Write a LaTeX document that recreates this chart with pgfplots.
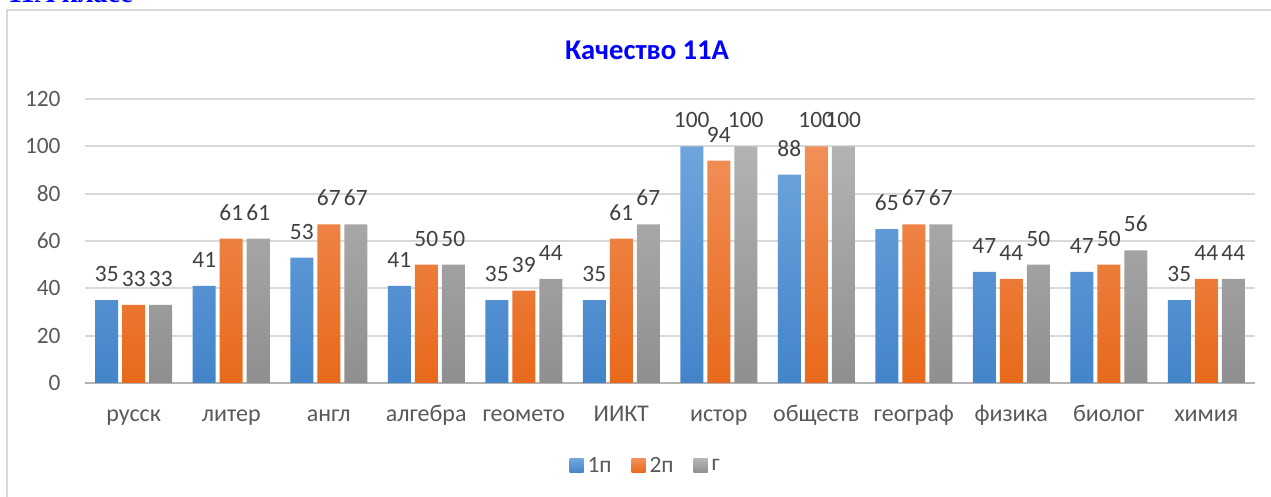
\documentclass[border=0pt]{standalone}
\usepackage{fontspec}
\setmainfont{Carlito}
\newfontfamily\headfont{Liberation Serif}
\usepackage{pgfplots}
\pgfplotsset{compat=1.18}
\definecolor{blueT}{HTML}{6FA5DD}
\definecolor{blueB}{HTML}{4384CA}
\definecolor{orT}{HTML}{F18F58}
\definecolor{orB}{HTML}{E8691B}
\definecolor{grT}{HTML}{B3B3B3}
\definecolor{grB}{HTML}{8F8F8F}
\definecolor{gridc}{HTML}{D9D9D9}
\definecolor{txt}{HTML}{595959}
\definecolor{lbl}{HTML}{404040}
\definecolor{headblue}{HTML}{0000FF}

\begin{document}
\begin{tikzpicture}
\clip (-42.5pt,-57pt) rectangle (593pt,191.5pt);
\draw[gridc, line width=1pt] (-39pt,186.5pt) rectangle (602pt,-68.5pt);
\node[anchor=base east, font=\headfont\bfseries\fontsize{14}{16}\selectfont, text=headblue, inner sep=0pt]
  at (24pt,190pt) {11А класс};
\begin{axis}[
  at={(0pt,0pt)}, anchor=south west,
  scale only axis,
  width=585pt, height=142pt,
  xmin=-0.5, xmax=11.5,
  ymin=0, ymax=120,
  ytick={0,20,...,120},
  xtick={0,...,11},
  xticklabels={русск,литер,англ,алгебра,геомето,ИИКТ,истор,обществ,географ,физика,биолог,химия},
  /pgf/number format/assume math mode=true,
  major tick length=0pt,
  axis line style={draw=none},
  ymajorgrids,
  grid style={gridc, line width=1pt},
  extra y ticks={0},
  extra y tick labels={},
  extra y tick style={grid style={draw=gray!60, line width=1pt}},
  tick label style={font=\fontsize{11.7}{13}\selectfont, text=txt},
  yticklabel style={anchor=east, inner sep=0pt, xshift=-12pt},
  xticklabel style={anchor=base, yshift=-19.5pt, font=\fontsize{12}{13}\selectfont},
  ybar=2pt,
  bar width=11.5pt,
  nodes near coords,
  every node near coord/.append style={font=\fontsize{11.7}{13}\selectfont, text=lbl, anchor=south, inner sep=0pt, yshift=9pt},
  legend columns=3,
  legend style={draw=none, at={(axis description cs:0.48,0)}, anchor=center, yshift=-41.5pt,
    font=\fontsize{11.7}{13}\selectfont, text=txt,
    /tikz/every even column/.append style={column sep=8pt}},
  legend image code/.code={\path[#1, draw=none] (0pt,-3.5pt) rectangle (7pt,3.5pt);},
]
\addplot[draw=none, top color=blueT, bottom color=blueB] coordinates {
(0,35) (1,41) (2,53) (3,41) (4,35) (5,35) (6,100) (7,88) (8,65) (9,47) (10,47) (11,35)};
\addplot[draw=none, top color=orT, bottom color=orB] coordinates {
(0,33) (1,61) (2,67) (3,50) (4,39) (5,61) (6,94) (7,100) (8,67) (9,44) (10,50) (11,44)};
\addplot[draw=none, top color=grT, bottom color=grB] coordinates {
(0,33) (1,61) (2,67) (3,50) (4,44) (5,67) (6,100) (7,100) (8,67) (9,50) (10,56) (11,44)};
\legend{1п,2п,г}
\end{axis}
\node[font=\bfseries\fontsize{14.3}{16}\selectfont, text=headblue] at (281pt,166.5pt) {Качество 11А};
\end{tikzpicture}
\end{document}
